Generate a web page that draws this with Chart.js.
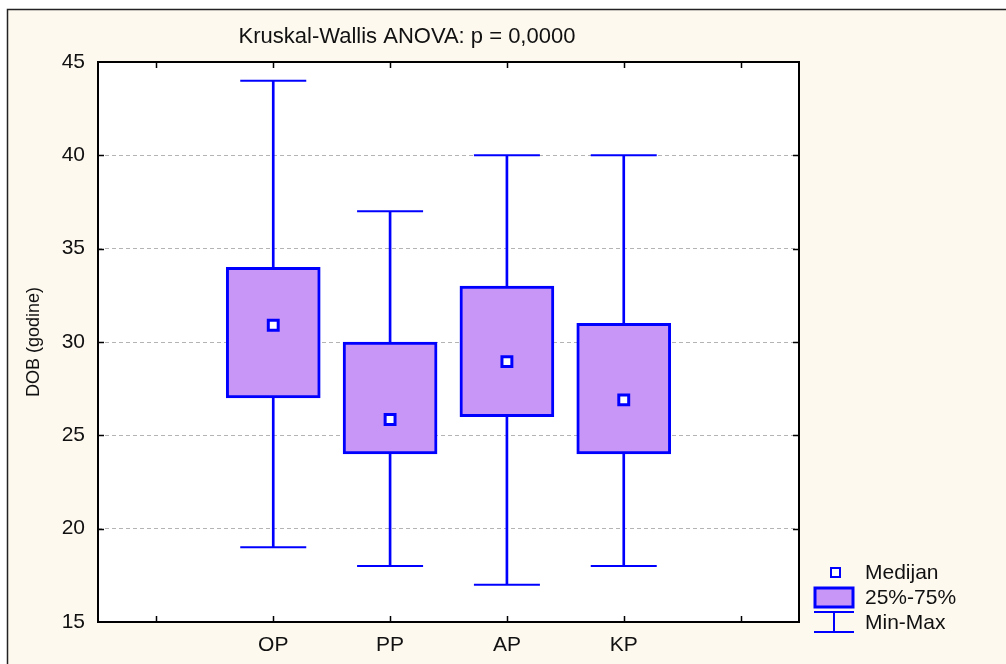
<!DOCTYPE html>
<html>
<head>
<meta charset="utf-8">
<script src="https://cdn.jsdelivr.net/npm/chart.js@4.4.1/dist/chart.umd.min.js"></script>
<style>
  html, body { margin: 0; padding: 0; background: #fff; }
  #wrap { width: 1006px; height: 664px; }
</style>
</head>
<body>
<div id="wrap"><canvas id="boxChart" width="1006" height="664"></canvas></div>
<script>
// podaci ocitani sa slike
const groups = ['OP', 'PP', 'AP', 'KP'];
const minVals = [19, 18, 17, 18];
const q1Vals = [27, 24, 26, 24];
const medianVals = [30.9, 25.85, 28.95, 26.9];
const q3Vals = [34, 30, 33, 31];
const maxVals = [44, 37, 40, 40];
const yTicks = [15, 20, 25, 30, 35, 40, 45];
const titleText = 'Kruskal-Wallis ANOVA: p = 0,0000';
const legendLabels = ['Medijan', '25%-75%', 'Min-Max'];

const BLUE = '#0000ff';
const BOX_FILL = '#c896f7';
const CREAM = '#fdf9ef';
const FONT = "'Liberation Sans', Arial, sans-serif";

// prazna mjesta na rubovima osi x
const pad = arr => [null, ...arr, null];
const labels = ['', ...groups, ''];

const framePlugin = {
  id: 'frame',
  beforeDraw(chart) {
    const { ctx, chartArea: a } = chart;
    ctx.save();
    ctx.fillStyle = '#fff';
    ctx.fillRect(0, 0, chart.width, chart.height);
    ctx.fillStyle = CREAM;
    ctx.fillRect(7, 9, chart.width - 7, chart.height - 9);
    ctx.strokeStyle = '#222';
    ctx.lineWidth = 1.5;
    ctx.beginPath();
    ctx.moveTo(7.5, chart.height);
    ctx.lineTo(7.5, 9.5);
    ctx.lineTo(chart.width, 9.5);
    ctx.stroke();
    ctx.fillStyle = '#fff';
    ctx.fillRect(a.left, a.top, a.right - a.left, a.bottom - a.top);
    ctx.restore();
  },
  afterDatasetsDraw(chart) {
    const { ctx, chartArea: a, scales } = chart;
    ctx.save();
    ctx.strokeStyle = '#000';
    ctx.lineWidth = 2;
    ctx.strokeRect(a.left, a.top, a.right - a.left, a.bottom - a.top);
    ctx.lineWidth = 1.5;
    ctx.beginPath();
    scales.x.ticks.forEach((t, i) => {
      const x = Math.round(scales.x.getPixelForTick(i)) + 0.5;
      ctx.moveTo(x, a.bottom); ctx.lineTo(x, a.bottom - 6);
      ctx.moveTo(x, a.top); ctx.lineTo(x, a.top + 6);
    });
    yTicks.slice(1, -1).forEach(v => {
      const y = Math.round(scales.y.getPixelForValue(v)) + 0.5;
      ctx.moveTo(a.left, y); ctx.lineTo(a.left + 6, y);
      ctx.moveTo(a.right, y); ctx.lineTo(a.right - 6, y);
    });
    ctx.stroke();

    // naslov
    ctx.fillStyle = '#111';
    ctx.font = '22px ' + FONT;
    ctx.textAlign = 'center';
    ctx.textBaseline = 'middle';
    ctx.fillText(titleText, 407, 37);

    // legenda
    ctx.textAlign = 'left';
    ctx.font = '21px ' + FONT;
    ctx.fillStyle = '#111';
    ctx.fillText(legendLabels[0], 865, 573);
    ctx.fillText(legendLabels[1], 865, 598);
    ctx.fillText(legendLabels[2], 865, 623);
    ctx.lineWidth = 2;
    ctx.strokeStyle = BLUE;
    ctx.fillStyle = '#fff';
    ctx.fillRect(831, 568, 9, 9);
    ctx.strokeRect(831, 568, 9, 9);
    ctx.fillStyle = BOX_FILL;
    ctx.fillRect(815, 588, 38, 19);
    ctx.lineWidth = 3;
    ctx.strokeRect(815, 588, 38, 19);
    ctx.lineWidth = 2;
    ctx.beginPath();
    ctx.moveTo(814, 612); ctx.lineTo(854, 612);
    ctx.moveTo(814, 632); ctx.lineTo(854, 632);
    ctx.moveTo(834, 612); ctx.lineTo(834, 632);
    ctx.stroke();
    ctx.restore();
  }
};

new Chart(document.getElementById('boxChart'), {
  type: 'bar',
  data: {
    labels,
    datasets: [
      {
        type: 'line', label: legendLabels[0], data: pad(medianVals), order: 0,
        showLine: false, pointStyle: 'rect', pointRadius: 7, pointHoverRadius: 7,
        pointBackgroundColor: '#fff', pointBorderColor: BLUE, pointBorderWidth: 3
      },
      {
        label: legendLabels[1], data: pad(q1Vals.map((q, i) => [q, q3Vals[i]])), order: 1,
        backgroundColor: BOX_FILL, borderColor: BLUE, borderWidth: 3, borderSkipped: false,
        barThickness: 94, grouped: false
      },
      {
        type: 'line', label: 'max', data: pad(maxVals), order: 2,
        showLine: false, pointStyle: 'line', pointRadius: 33, pointHoverRadius: 33,
        pointBorderColor: BLUE, pointBorderWidth: 2
      },
      {
        type: 'line', label: 'min', data: pad(minVals), order: 2,
        showLine: false, pointStyle: 'line', pointRadius: 33, pointHoverRadius: 33,
        pointBorderColor: BLUE, pointBorderWidth: 2
      },
      {
        label: legendLabels[2], data: pad(minVals.map((m, i) => [m, maxVals[i]])), order: 3,
        backgroundColor: BLUE, borderWidth: 0, barThickness: 2, grouped: false
      }
    ]
  },
  options: {
    responsive: false,
    animation: false,
    events: [],
    layout: { padding: { top: 62, right: 207, left: 0, bottom: 0 } },
    plugins: { legend: { display: false }, title: { display: false }, tooltip: { enabled: false } },
    scales: {
      x: {
        afterFit: s => { s.height = 42; },
        grid: { display: false, drawTicks: false },
        border: { display: false },
        ticks: { color: '#111', font: { family: FONT, size: 21 }, padding: 11, maxRotation: 0, autoSkip: false }
      },
      y: {
        min: 15, max: 45,
        afterFit: s => { s.width = 98; },
        afterBuildTicks: s => { s.ticks = yTicks.map(v => ({ value: v })); },
        grid: {
          drawTicks: false,
          color: c => (c.tick && (c.tick.value === 15 || c.tick.value === 45)) ? 'rgba(0,0,0,0)' : '#b4b4b4',
          lineWidth: 1
        },
        border: { display: false, dash: [4, 3] },
        ticks: { color: '#111', font: { family: FONT, size: 21 }, padding: 13 },
        title: { display: true, text: 'DOB (godine)', color: '#111', font: { family: FONT, size: 18 }, padding: { top: 23, bottom: 0 } }
      }
    }
  },
  plugins: [framePlugin]
});
</script>
</body>
</html>
